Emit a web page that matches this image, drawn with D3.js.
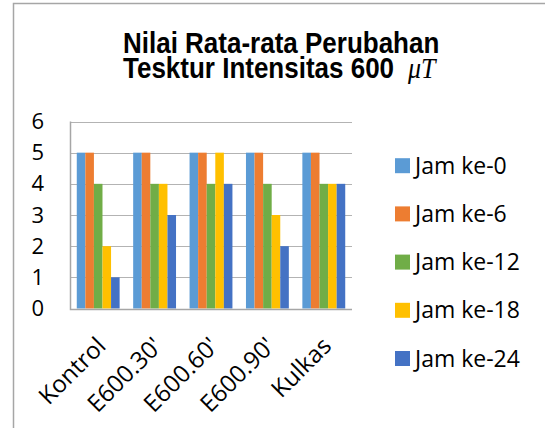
<!DOCTYPE html>
<html>
<head>
<meta charset="utf-8">
<script src="https://cdn.jsdelivr.net/npm/d3@7.9.0/dist/d3.min.js"></script>
<style>
  body { margin: 0; background: #fff; }
  svg { display: block; }
</style>
</head>
<body>
<svg id="chart" width="545" height="428"></svg>
<script>
// chart data
const categories = ["Kontrol", "E600.30'", "E600.60'", "E600.90'", "Kulkas"];
const seriesNames = ["Jam ke-0", "Jam ke-6", "Jam ke-12", "Jam ke-18", "Jam ke-24"];
const jam0 = [5, 5, 5, 5, 5];
const jam6 = [5, 5, 5, 5, 5];
const jam12 = [4, 4, 4, 4, 4];
const jam18 = [2, 4, 5, 3, 4];
const jam24 = [1, 3, 4, 2, 4];
const yTicks = [0, 1, 2, 3, 4, 5, 6];
const seriesColors = ["#5B9BD5", "#ED7D31", "#70AD47", "#FFC000", "#4472C4"];

const seriesValues = [jam0, jam6, jam12, jam18, jam24];

const svg = d3.select('#chart');
const labelFont = '"Open Sans", Lato, sans-serif';

// outer chart border (only left and top visible)
svg.append('path')
  .attr('d', 'M13.5,428 V3.5 H545')
  .attr('fill', 'none')
  .attr('stroke', '#a6a6a6')
  .attr('stroke-width', 1.5);

const plot = { left: 70, right: 352, top: 121.5, bottom: 308.5 };

const x0 = d3.scaleBand()
  .domain(categories)
  .range([plot.left, plot.right])
  .paddingInner(0.24)
  .paddingOuter(0.12);

const x1 = d3.scaleBand()
  .domain(seriesNames)
  .range([0, x0.bandwidth()]);

const y = d3.scaleLinear()
  .domain([0, 6])
  .range([plot.bottom, plot.top]);

// gridlines
svg.append('g')
  .selectAll('line')
  .data(yTicks.filter(d => d > 0))
  .join('line')
  .attr('x1', plot.left)
  .attr('x2', plot.right)
  .attr('y1', d => Math.round(y(d)) + 0.5)
  .attr('y2', d => Math.round(y(d)) + 0.5)
  .attr('stroke', '#b3b3b3')
  .attr('stroke-width', 1);

// bars
const groups = svg.append('g')
  .selectAll('g')
  .data(categories)
  .join('g')
  .attr('transform', c => `translate(${x0(c)},0)`);

groups.selectAll('rect')
  .data((c, ci) => seriesNames.map((s, si) => ({ s, si, v: seriesValues[si][ci] })))
  .join('rect')
  .attr('x', d => x1(d.s))
  .attr('width', x1.bandwidth())
  .attr('y', d => y(d.v))
  .attr('height', d => y(0) - y(d.v))
  .attr('fill', d => seriesColors[d.si]);

// axis lines
svg.append('path')
  .attr('d', `M${plot.left + 0.5},${plot.top} V${Math.round(plot.bottom) + 0.5} H${plot.right}`)
  .attr('fill', 'none')
  .attr('stroke', '#a6a6a6')
  .attr('stroke-width', 1.5);

// y tick labels
svg.append('g')
  .selectAll('text')
  .data(yTicks)
  .join('text')
  .attr('x', 44)
  .attr('y', d => y(d) + 7.5)
  .attr('text-anchor', 'end')
  .attr('font-family', labelFont)
  .attr('font-size', 22)
  .attr('fill', '#000')
  .text(d => d);

// x tick labels, rotated
svg.append('g')
  .selectAll('text')
  .data(categories)
  .join('text')
  .attr('text-anchor', 'end')
  .attr('transform', c => `translate(${x0(c) + x0.bandwidth() / 2 + 9},${plot.bottom + 39}) rotate(-45)`)
  .attr('font-family', labelFont)
  .attr('font-size', 24)
  .attr('fill', '#000')
  .text(c => c);

// title (slightly stretched vertically like the original)
const titleG = svg.append('g').attr('transform', 'scale(1,1.12)');
const titleFont = '"Liberation Sans", Arial, sans-serif';
titleG.append('text')
  .attr('x', 123).attr('y', 53.3 / 1.12)
  .attr('font-family', titleFont).attr('font-weight', 'bold').attr('font-size', 26)
  .text('Nilai Rata-rata Perubahan');
titleG.append('text')
  .attr('x', 123).attr('y', 78.3 / 1.12)
  .attr('font-family', titleFont).attr('font-weight', 'bold').attr('font-size', 26)
  .text('Tesktur Intensitas 600');
titleG.append('text')
  .attr('x', 408).attr('y', 78.3 / 1.12)
  .attr('font-family', '"Liberation Serif", "DejaVu Serif", serif')
  .attr('font-style', 'italic')
  .attr('font-size', 26)
  .text('μT');

// legend
const legend = svg.append('g')
  .selectAll('g')
  .data(seriesNames)
  .join('g')
  .attr('transform', (d, i) => `translate(395,${165.7 + i * 48.2})`);

legend.append('rect')
  .attr('x', 0)
  .attr('y', -7.5)
  .attr('width', 15)
  .attr('height', 15)
  .attr('fill', (d, i) => seriesColors[i]);

legend.append('text')
  .attr('x', 20)
  .attr('y', 8)
  .attr('font-family', labelFont)
  .attr('font-size', 23)
  .attr('fill', '#000')
  .text(d => d);
</script>
</body>
</html>
